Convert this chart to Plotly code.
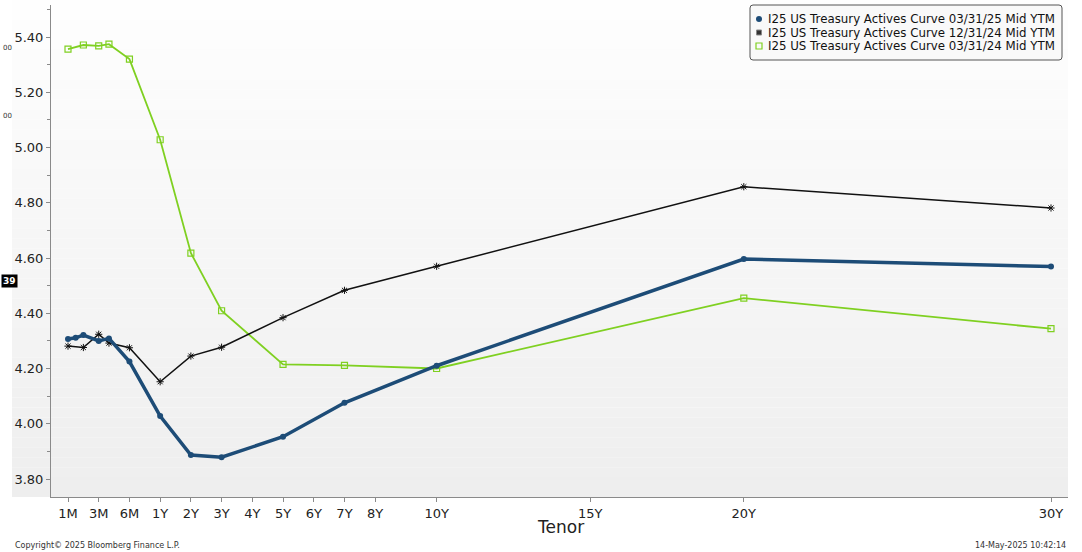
import plotly.graph_objects as go

# ---------------- data ----------------
tenor_months_blue = [1, 1.5, 2, 3, 4, 6, 12, 24, 36, 60, 84, 120, 240, 360]
yld_mar25 = [4.307, 4.311, 4.321, 4.300, 4.309, 4.225, 4.028, 3.887, 3.879, 3.953, 4.076, 4.210, 4.596, 4.569]

tenor_months_black = [1, 2, 3, 4, 6, 12, 24, 36, 60, 84, 120, 240, 360]
yld_dec24 = [4.281, 4.276, 4.324, 4.292, 4.275, 4.152, 4.245, 4.277, 4.384, 4.483, 4.570, 4.858, 4.781]

tenor_months_green = [1, 2, 3, 4, 6, 12, 24, 36, 60, 84, 120, 240, 360]
yld_mar24 = [5.356, 5.371, 5.368, 5.374, 5.320, 5.028, 4.618, 4.409, 4.215, 4.211, 4.200, 4.455, 4.344]

tick_labels = ["1M", "3M", "6M", "1Y", "2Y", "3Y", "4Y", "5Y", "6Y", "7Y", "8Y", "10Y", "15Y", "20Y", "30Y"]
tick_months = [1, 3, 6, 12, 24, 36, 48, 60, 72, 84, 96, 120, 180, 240, 360]

series_names = [
    "I25 US Treasury Actives Curve 03/31/25 Mid YTM",
    "I25 US Treasury Actives Curve 12/31/24 Mid YTM",
    "I25 US Treasury Actives Curve 03/31/24 Mid YTM",
]


def tenor_pos(m):
    """Bloomberg-style tenor scale: short end stretched, years linear."""
    if m <= 3:
        return -2 + (m - 1) / 2
    if m <= 6:
        return -1 + (m - 3) / 3
    if m <= 12:
        return (m - 6) / 6
    return m / 12


BLUE = "#1d4c77"
BLACK = "#111111"
GREEN = "#7fd021"
FONT = "Tahoma, DejaVu Sans, Verdana, sans-serif"

# ---------------- geometry helpers (pixel -> paper) ----------------
W, H = 1082, 552
L, R, T, B = 51, 1068, 5, 497


def pxx(px):
    return (px - L) / (R - L)


def pxy(py):
    return (B - py) / (B - T)


fig = go.Figure()

fig.add_trace(go.Scatter(
    x=[tenor_pos(m) for m in tenor_months_green], y=yld_mar24, mode="lines+markers",
    line=dict(color=GREEN, width=1.8),
    marker=dict(symbol="square-open", size=6, color=GREEN, line=dict(width=1.2, color=GREEN)),
    showlegend=False, name=series_names[2]))

fig.add_trace(go.Scatter(
    x=[tenor_pos(m) for m in tenor_months_black], y=yld_dec24, mode="lines+markers",
    line=dict(color=BLACK, width=1.5),
    marker=dict(symbol="asterisk-open", size=6, color=BLACK, line=dict(width=1, color=BLACK)),
    showlegend=False, name=series_names[1]))

fig.add_trace(go.Scatter(
    x=[tenor_pos(m) for m in tenor_months_blue], y=yld_mar25, mode="lines+markers",
    line=dict(color=BLUE, width=3.5),
    marker=dict(symbol="circle", size=6, color=BLUE),
    showlegend=False, name=series_names[0]))

# ---------------- background gradient panel ----------------
shapes = []
n_bands = 50
top_px, bot_px = 0, 497
for i in range(n_bands):
    y0 = top_px + (bot_px - top_px) * i / n_bands
    y1 = top_px + (bot_px - top_px) * (i + 1) / n_bands
    t = (i + 0.5) / n_bands
    c = int(round(254 - t * (254 - 238)))
    shapes.append(dict(type="rect", xref="paper", yref="paper",
                       x0=pxx(12), x1=pxx(1068), y0=pxy(y1), y1=pxy(y0),
                       fillcolor=f"rgb({c},{c},{c})", line=dict(width=0), layer="below"))

# legend box (rounded)
lx0, lx1, ly0, ly1 = pxx(750), pxx(1062), pxy(60), pxy(5)
rx, ry = 3 / (R - L), 3 / (B - T)
path = (f"M {lx0+rx},{ly1} L {lx1-rx},{ly1} Q {lx1},{ly1} {lx1},{ly1-ry} "
        f"L {lx1},{ly0+ry} Q {lx1},{ly0} {lx1-rx},{ly0} L {lx0+rx},{ly0} "
        f"Q {lx0},{ly0} {lx0},{ly0+ry} L {lx0},{ly1-ry} Q {lx0},{ly1} {lx0+rx},{ly1} Z")
shapes.append(dict(type="path", xref="paper", yref="paper", path=path,
                   fillcolor="#f9f9f9", line=dict(color="#555555", width=1), layer="below"))

# ---------------- legend entries (overlay axes in pixel units) ----------------
legend_rows = [19, 32.5, 46]
legend_styles = [
    dict(symbol="circle", size=6, color=BLUE, line=dict(width=0)),
    dict(symbol="square", size=5, color="#333333", line=dict(width=1, color="#888888")),
    dict(symbol="square-open", size=6, color=GREEN, line=dict(width=1.2, color=GREEN)),
]
for row, style in zip(legend_rows, legend_styles):
    fig.add_trace(go.Scatter(x=[759], y=[row], mode="markers", marker=style,
                             xaxis="x2", yaxis="y2", showlegend=False, hoverinfo="skip"))

annotations = []
for row, name in zip(legend_rows, series_names):
    annotations.append(dict(xref="paper", yref="paper", x=pxx(766), y=pxy(row),
                            xanchor="left", yanchor="middle", showarrow=False,
                            text=name, font=dict(family=FONT, size=11.8, color="#111111")))

# axis title
annotations.append(dict(xref="paper", yref="paper", x=pxx(560), y=pxy(527),
                        xanchor="center", yanchor="middle", showarrow=False,
                        text="Tenor", font=dict(family=FONT, size=17, color="#222222")))
# footer
annotations.append(dict(xref="paper", yref="paper", x=pxx(13), y=pxy(545),
                        xanchor="left", yanchor="middle", showarrow=False,
                        text="Copyright© 2025 Bloomberg Finance L.P.",
                        font=dict(family=FONT, size=8, color="#333333")))
annotations.append(dict(xref="paper", yref="paper", x=pxx(1068), y=pxy(545),
                        xanchor="right", yanchor="middle", showarrow=False,
                        text="14-May-2025 10:42:14",
                        font=dict(family=FONT, size=8, color="#333333")))
# partial labels at the left edge (from a second, clipped axis in the source)
for py in [48, 116]:
    annotations.append(dict(xref="paper", yref="paper", x=pxx(1), y=pxy(py),
                            xanchor="left", yanchor="middle", showarrow=False,
                            text="00", font=dict(family=FONT, size=7, color="#333333")))
annotations.append(dict(xref="paper", yref="paper", x=pxx(1), y=pxy(281),
                        xanchor="left", yanchor="middle", showarrow=False,
                        text="<b>39</b>", bgcolor="#000000", borderpad=1,
                        font=dict(family=FONT, size=9, color="#ffffff")))

fig.update_layout(
    width=W, height=H,
    margin=dict(l=L, r=W - R, t=T, b=H - B, pad=0),
    paper_bgcolor="white", plot_bgcolor="rgba(0,0,0,0)",
    showlegend=False,
    shapes=shapes, annotations=annotations,
    xaxis=dict(
        range=[tenor_pos(1) - (68 - L) / 30.72, tenor_pos(360) + (R - 1051) / 30.72],
        tickvals=[tenor_pos(m) for m in tick_months], ticktext=tick_labels,
        showgrid=False, zeroline=False, showline=True, linecolor="#8a8a8a", linewidth=1,
        ticks="outside", ticklen=4, tickcolor="#8a8a8a",
        tickfont=dict(family=FONT, size=13, color="#222222"),
    ),
    yaxis=dict(
        range=[3.80 - (B - 479) / 276.25, 3.80 + (479 - T) / 276.25],
        tickvals=[3.8, 4.0, 4.2, 4.4, 4.6, 4.8, 5.0, 5.2, 5.4], tickformat=".2f",
        showgrid=False, zeroline=False, showline=True, linecolor="#8a8a8a", linewidth=1,
        ticks="outside", ticklen=4, tickcolor="#8a8a8a",
        tickfont=dict(family=FONT, size=13, color="#222222"),
        minor=dict(dtick=0.1, ticks="outside", ticklen=3, tickcolor="#8a8a8a", showgrid=False),
    ),
    xaxis2=dict(overlaying="x", range=[L, R], visible=False, anchor="y2"),
    yaxis2=dict(overlaying="y", range=[B, T], visible=False, anchor="x2"),
)

fig.write_html(
    "out.html",
    config={"displayModeBar": False},
    post_script="document.body.style.margin='0';document.body.style.overflow='hidden';",
)
